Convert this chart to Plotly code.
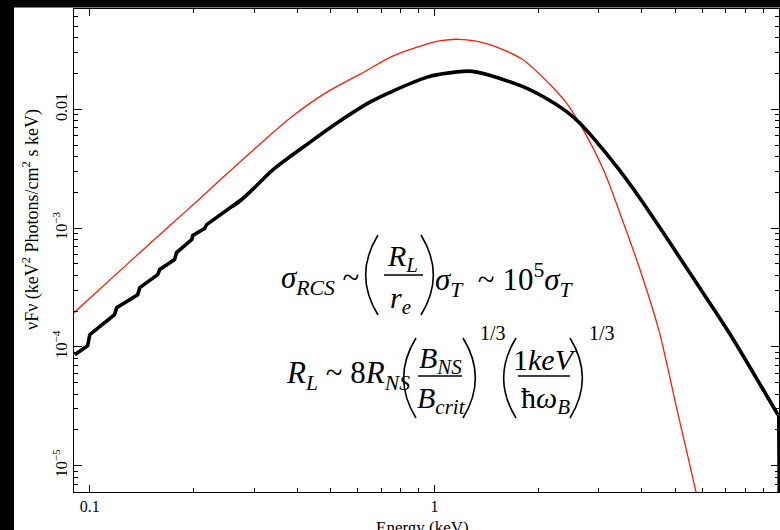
import numpy as np
import plotly.graph_objects as go

# Model spectra: energy (keV) and nu F_nu (keV^2 photons / cm^2 s keV)
# stepped low-energy part of the black spectrum
black_low_energy = [0.0905, 0.0986, 0.1000, 0.1180, 0.1197, 0.1377, 0.1397, 0.1574, 0.1596,
                    0.1762, 0.1786, 0.1977, 0.1991, 0.2153, 0.2183, 0.2594, 0.276]
black_low_flux = [8.59e-5, 1.023e-4, 1.268e-4, 1.87e-4, 2.14e-4, 2.75e-4, 3.16e-4, 4.06e-4, 4.48e-4,
                  5.43e-4, 6.22e-4, 8.02e-4, 8.67e-4, 9.93e-4, 1.07e-3, 1.52e-3, 1.74e-3]
# smooth part of the black spectrum
black_high_energy = [0.2594, 0.276, 0.303, 0.341, 0.435, 0.541, 0.648, 0.755, 0.948, 1.033, 1.288,
                     1.80, 2.15, 2.415, 2.63, 2.87, 3.44, 3.93, 4.49, 5.60, 6.40, 7.31, 9.93]
black_high_flux = [1.52e-3, 1.74e-3, 2.24e-3, 3.12e-3, 5.27e-3, 8.24e-3, 1.146e-2, 1.42e-2, 1.86e-2,
                   1.97e-2, 2.09e-2, 1.56e-2, 1.20e-2, 9.62e-3, 7.76e-3, 5.89e-3, 3.09e-3, 1.82e-3,
                   1.03e-3, 3.91e-4, 2.18e-4, 1.20e-4, 2.68e-5]
# last bin drops off the bottom of the plot
black_tail_energy = [9.93, 9.99]
black_tail_flux = [2.68e-5, 2.0e-6]

red_energy = [0.09, 0.1315, 0.175, 0.204, 0.244, 0.311, 0.388, 0.485, 0.607, 0.757, 0.946,
              1.034, 1.18, 1.44, 1.80, 2.15, 2.41, 2.67, 3.11, 3.48, 3.93, 4.49, 5.06, 5.74, 5.95]
red_flux = [1.94e-4, 5.3e-4, 1.12e-3, 1.67e-3, 2.69e-3, 5.07e-3, 8.79e-3, 1.384e-2, 1.97e-2, 2.81e-2, 3.53e-2,
            3.77e-2, 3.89e-2, 3.53e-2, 2.64e-2, 1.65e-2, 1.146e-2, 7.19e-3, 3.0e-3, 1.26e-3, 4.68e-4, 1.35e-4,
            2.95e-5, 6.0e-6, 3.5e-6]

x_range = [0.09, 10.0]
y_range = [6e-6, 0.07]
y_tick_vals = [1e-5, 1e-4, 1e-3, 1e-2]
y_tick_text = ["10<sup>\u22125</sup>", "10<sup>\u22124</sup>", "10<sup>\u22123</sup>", "0.01"]
x_tick_vals = [0.1, 1, 10]
x_tick_text = ["0.1", "1", "10"]

W, H = 780, 530
ML, MR, MT, MB = 74, 1, 9, 38
PW, PH = W - ML - MR, H - MT - MB

SERIF = "Liberation Serif, Times New Roman, Times, serif"


def px(x):
    return (x - ML) / PW


def py(y):
    return (MT + PH - y) / PH


fig = go.Figure()
fig.add_trace(go.Scatter(x=red_energy, y=red_flux, mode="lines",
                         line=dict(color="#ff1a0a", width=1.3, shape="spline", smoothing=0.8),
                         showlegend=False))
fig.add_trace(go.Scatter(x=black_low_energy, y=black_low_flux, mode="lines",
                         line=dict(color="black", width=3.6), showlegend=False))
fig.add_trace(go.Scatter(x=black_high_energy, y=black_high_flux, mode="lines",
                         line=dict(color="black", width=3.6, shape="spline", smoothing=0.8),
                         showlegend=False))
fig.add_trace(go.Scatter(x=black_tail_energy, y=black_tail_flux, mode="lines",
                         line=dict(color="black", width=2), showlegend=False))

minor_x = [m * 10.0 ** d for d in (-2, -1, 0) for m in range(2, 10)]
minor_y = [m * 10.0 ** d for d in (-6, -5, -4, -3, -2) for m in range(2, 10)]

axis_common = dict(showline=True, linecolor="black", linewidth=1, mirror="allticks",
                   ticks="inside", tickcolor="black", showgrid=False, zeroline=False,
                   tickfont=dict(family=SERIF, size=16, color="black"))

fig.update_xaxes(type="log", range=[np.log10(x_range[0]), np.log10(x_range[1])],
                 tickmode="array", tickvals=x_tick_vals, ticktext=x_tick_text,
                 ticklen=7, tickwidth=1,
                 minor=dict(tickmode="array", tickvals=minor_x, ticks="inside", ticklen=4,
                            tickcolor="black", showgrid=False),
                 **axis_common)
fig.update_yaxes(type="log", range=[np.log10(y_range[0]), np.log10(y_range[1])],
                 tickmode="array", tickvals=y_tick_vals, ticktext=y_tick_text,
                 ticklen=8, tickwidth=1, tickangle=-90,
                 minor=dict(tickmode="array", tickvals=minor_y, ticks="inside", ticklen=4,
                            tickcolor="black", showgrid=False),
                 **axis_common)

ann = []


def text(x, y, s, size, xanchor="center", yanchor="middle", angle=0):
    ann.append(dict(x=px(x), y=py(y), xref="paper", yref="paper", text=s, showarrow=False,
                    xanchor=xanchor, yanchor=yanchor, textangle=angle,
                    font=dict(family=SERIF, size=size, color="black")))


shapes = []


def hline(x0, x1, y):
    shapes.append(dict(type="line", xref="paper", yref="paper", x0=px(x0), x1=px(x1),
                       y0=py(y), y1=py(y), line=dict(color="black", width=1.4)))


def paren(x_out, x_in, y0, y1, side):
    # curved bracket drawn as a quadratic Bezier; side "l" for "(" and "r" for ")"
    ym = (y0 + y1) / 2
    if side == "l":
        xe, xc = x_in, x_out - (x_in - x_out) * 0.9
    else:
        xe, xc = x_in, x_out + (x_out - x_in) * 0.9
    path = f"M {px(xe)},{py(y0)} Q {px(xc)},{py(ym)} {px(xe)},{py(y1)}"
    shapes.append(dict(type="path", xref="paper", yref="paper", path=path,
                       line=dict(color="black", width=1.6)))


# axis titles
text(31, 220, "\u03bdF\u03bd (keV<sup>2</sup> Photons/cm<sup>2</sup> s keV)", 18, angle=-90)
text(422, 527, "Energy (keV)", 17)

# first relation
text(279, 280, "<i>\u03c3<sub>RCS</sub></i> ~", 31, xanchor="left")
paren(365, 378, 235, 315, "l")
text(402, 258, "<i>R<sub>L</sub></i>", 30)
hline(384, 423, 275)
text(400, 300, "<i>r<sub>e</sub></i>", 30)
paren(434, 421, 235, 315, "r")
text(433, 280, "<i>\u03c3<sub>T</sub></i>  ~ 10<sup>5</sup><i>\u03c3<sub>T</sub></i>", 31, xanchor="left")

# second relation
text(284, 375, "<i>R<sub>L</sub></i> ~ 8<i>R<sub>NS</sub></i>", 31, xanchor="left")
paren(403, 416, 338, 418, "l")
text(440, 360, "<i>B<sub>NS</sub></i>", 30)
hline(418, 462, 376)
text(441, 400, "<i>B<sub>crit</sub></i>", 30)
paren(476, 463, 338, 418, "r")
text(478, 333, "1/3", 20, xanchor="left")
paren(503, 516, 338, 418, "l")
text(545, 360, "1<i>keV</i>", 30)
hline(518, 570, 376)
text(545, 400, "\u0127<i>\u03c9<sub>B</sub></i>", 30)
paren(583, 570, 338, 418, "r")
text(587, 333, "1/3", 20, xanchor="left")

# dark frame strips along the top and left edges of the page
shapes.append(dict(type="rect", xref="paper", yref="paper", x0=px(0), x1=px(14), y0=py(H), y1=py(0),
                   fillcolor="black", line=dict(width=0), layer="above"))
shapes.append(dict(type="rect", xref="paper", yref="paper", x0=px(0), x1=px(W), y0=py(7.5), y1=py(0),
                   fillcolor="black", line=dict(width=0), layer="above"))

fig.update_layout(width=W, height=H, margin=dict(l=ML, r=MR, t=MT, b=MB),
                  paper_bgcolor="white", plot_bgcolor="white",
                  font=dict(family=SERIF, color="black"),
                  annotations=ann, shapes=shapes, showlegend=False)

fig.write_html("out.html")
